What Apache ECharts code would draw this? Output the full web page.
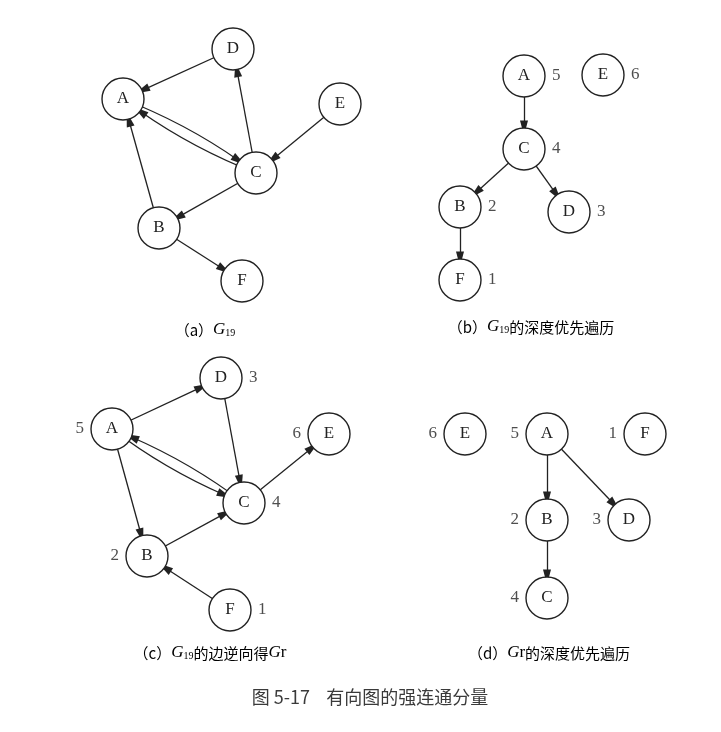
<!DOCTYPE html>
<html>
<head>
<meta charset="utf-8">
<script src="https://cdn.jsdelivr.net/npm/echarts@6/dist/echarts.min.js"></script>
<style>
html,body{margin:0;padding:0;background:#fff;}
#main{width:721px;height:732px;}
</style>
</head>
<body>
<div id="main"></div>
<script>
// ---- Data (node coordinates in the drawing's own units, edges, DFS numbers) ----
const nodesA = [['A',123,99],['B',159,228],['C',256,173],['D',233,49],['E',340,104],['F',242,281]];
const edgesA = [['D','A'],['A','C'],['C','A'],['C','D'],['E','C'],['C','B'],['B','A'],['B','F']];

const nodesB = [['A',524,76],['C',524,149],['B',460,207],['D',569,212],['F',460,280],['E',603,75]];
const edgesB = [['A','C'],['C','B'],['C','D'],['B','F']];
const orderB = {A:5, B:2, C:4, D:3, E:6, F:1};

const nodesC = [['A',112,429],['B',147,556],['C',244,503],['D',221,378],['E',329,434],['F',230,610]];
const edgesC = [['A','D'],['D','C'],['A','C'],['C','A'],['A','B'],['B','C'],['C','E'],['F','B']];
const orderC = {A:5, B:2, C:4, D:3, E:6, F:1};

const nodesD = [['E',465,434],['A',547,434],['F',645,434],['B',547,520],['D',629,520],['C',547,598]];
const edgesD = [['A','B'],['A','D'],['B','C']];
const orderD = {A:5, B:2, C:4, D:3, E:6, F:1};

const captions = [
  ['（a）', '19', ''],
  ['（b）', '19', '的深度优先遍历'],
  ['（c）', '19', '的边逆向得Gr'],
  ['（d）', '', 'r的深度优先遍历']
];
const figureTitle = '图 5-17    有向图的强连通分量';

// ---- Styling ----
const ink = '#222';
const sideB = {A:'right',B:'right',C:'right',D:'right',E:'right',F:'right'};
const sideC = {A:'left',B:'left',C:'right',D:'right',E:'left',F:'right'};
const sideD = {A:'left',B:'left',C:'left',D:'left',E:'left',F:'left'};
const pairCurve = {a:0.07, c:-0.07};

function graphSeries(nodes, edges, curve) {
  return {
    type: 'graph',
    coordinateSystem: 'cartesian2d',
    layout: 'none',
    silent: true,
    symbol: 'circle',
    symbolSize: 42,
    z: 3,
    itemStyle: {color: '#fff', borderColor: ink, borderWidth: 1.4},
    label: {show: true, position: 'inside', color: ink, fontFamily: 'Liberation Serif', fontSize: 17,
            formatter: p => p.name},
    edgeSymbol: ['none', 'path://M5,0L10,20L0,20Z'],
    edgeSymbolSize: [0, [8, 15]],
    lineStyle: {color: ink, width: 1.3, opacity: 1, curveness: 0},
    emphasis: {disabled: true},
    data: nodes.map(n => ({name: n[0], value: [n[1], n[2]]})),
    links: edges.map(e => {
      const rev = edges.some(o => o[0] === e[1] && o[1] === e[0]);
      return {source: e[0], target: e[1], lineStyle: {curveness: rev ? curve : 0}};
    })
  };
}

function numberSeries(nodes, order, side) {
  return {
    type: 'scatter',
    silent: true,
    symbol: 'circle',
    symbolSize: 42,
    z: 2,
    itemStyle: {color: 'rgba(0,0,0,0)'},
    emphasis: {disabled: true},
    data: nodes.map(n => ({
      value: [n[1], n[2]],
      label: {show: true, position: side[n[0]], distance: 7,
              formatter: String(order[n[0]]), color: ink, fontFamily: 'Liberation Serif', fontSize: 17}
    }))
  };
}

const capPos = [[205, 330], [531, 327], [210, 653], [549, 653]];
const rich = {
  p: {fontFamily: 'Noto Sans CJK SC', fontSize: 15, color: '#2a2a2a'},
  g: {fontFamily: 'Liberation Serif', fontStyle: 'italic', fontSize: 17, color: '#2a2a2a'},
  s: {fontFamily: 'Liberation Serif', fontSize: 10, color: '#2a2a2a', padding: [7, 0, 0, 0]},
  r: {fontFamily: 'Liberation Serif', fontSize: 17, color: '#2a2a2a'},
  c: {fontFamily: 'Noto Sans CJK SC', fontSize: 15, color: '#2a2a2a'}
};
function capText(c) {
  let t = '{p|' + c[0] + '}{g|G}';
  if (c[1]) t += '{s|' + c[1] + '}';
  let rest = c[2];
  if (!rest) return t;
  if (rest[0] === 'r') { t += '{r|r}'; rest = rest.slice(1); }
  const gi = rest.indexOf('Gr');
  if (gi >= 0) {
    t += '{c|' + rest.slice(0, gi) + '}{g|G}{r|r}';
  } else {
    t += '{c|' + rest + '}';
  }
  return t;
}

const graphics = captions.map((c, i) => ({
  type: 'text', x: capPos[i][0], y: capPos[i][1], z: 10,
  style: {text: capText(c), rich: rich, align: 'center', verticalAlign: 'middle'}
}));
graphics.push({
  type: 'text', x: 370, y: 697, z: 10,
  style: {text: figureTitle, fontFamily: 'Noto Sans CJK SC', fontSize: 18, fill: '#3a3a3a',
          align: 'center', verticalAlign: 'middle'}
});

const chart = echarts.init(document.getElementById('main'));
chart.setOption({
  backgroundColor: '#fff',
  animation: false,
  grid: {left: 0, right: 0, top: 0, bottom: 0},
  xAxis: {type: 'value', min: 0, max: 721, show: false},
  yAxis: {type: 'value', min: 0, max: 732, inverse: true, show: false},
  series: [
    graphSeries(nodesA, edgesA, pairCurve.a),
    graphSeries(nodesB, edgesB, 0),
    numberSeries(nodesB, orderB, sideB),
    graphSeries(nodesC, edgesC, pairCurve.c),
    numberSeries(nodesC, orderC, sideC),
    graphSeries(nodesD, edgesD, 0),
    numberSeries(nodesD, orderD, sideD)
  ],
  graphic: graphics
});
</script>
</body>
</html>
